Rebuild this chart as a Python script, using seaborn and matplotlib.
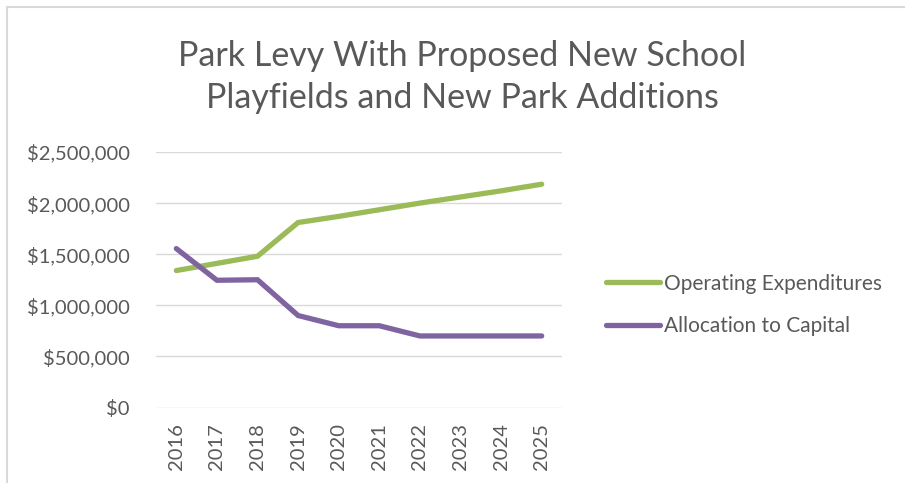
import matplotlib
matplotlib.use("Agg")
import matplotlib.pyplot as plt
from matplotlib.lines import Line2D
from matplotlib.ticker import FuncFormatter
import pandas as pd
import seaborn as sns

years = ["2016", "2017", "2018", "2019", "2020", "2021", "2022", "2023", "2024", "2025"]
operating_expenditures = [1340000, 1410000, 1480000, 1810000, 1870000, 1935000, 2000000, 2060000, 2120000, 2185000]
allocation_to_capital = [1555000, 1245000, 1250000, 900000, 800000, 800000, 700000, 700000, 700000, 700000]
series_names = ["Operating Expenditures", "Allocation to Capital"]
series_colors = ["#9BBB59", "#8064A2"]
title_text = "Park Levy With Proposed New School\nPlayfields and New Park Additions"

df = pd.DataFrame({
    "Year": years * 2,
    "Amount": operating_expenditures + allocation_to_capital,
    "Series": [series_names[0]] * len(years) + [series_names[1]] * len(years),
})

sns.set_theme(style="white")
plt.rcParams["font.family"] = ["Lato", "DejaVu Sans"]
text_color = "#595959"

fig = plt.figure(figsize=(9.05, 4.83), dpi=100)
ax = fig.add_axes([156 / 905, 1 - 407.5 / 483, (562 - 156) / 905, (407.5 - 152) / 483])

sns.lineplot(data=df, x="Year", y="Amount", hue="Series", palette=series_colors,
             hue_order=series_names, linewidth=3.8, ax=ax, legend=False, sort=False)
for ln in ax.lines:
    ln.set_solid_capstyle("round")
    ln.set_solid_joinstyle("miter")

ax.set_xlim(-0.5, len(years) - 0.5)
ax.set_ylim(0, 2500000)
ax.set_yticks(range(0, 2500001, 500000))
ax.yaxis.set_major_formatter(FuncFormatter(lambda v, p: f"${int(v):,}"))
ax.grid(axis="y", color="#D9D9D9", linewidth=1.0)
ax.set_axisbelow(True)
for s in ax.spines.values():
    s.set_visible(False)
ax.set_xlabel("")
ax.set_ylabel("")
ax.tick_params(axis="y", length=0, pad=19, labelsize=14.5, labelcolor=text_color)
ax.tick_params(axis="x", length=0, pad=11, labelsize=14.5, labelcolor=text_color, labelrotation=90)

fig.text(462 / 905, 1 - 77 / 483, title_text, ha="center", va="center",
         fontsize=24.5, color=text_color, linespacing=1.4)

handles = [Line2D([], [], color=c, linewidth=3.8, solid_capstyle="round") for c in series_colors]
leg = fig.legend(handles, series_names, loc="center left",
                 bbox_to_anchor=(587 / 905, 1 - 305 / 483), frameon=False,
                 fontsize=15, handlelength=2.6, handletextpad=0.2, labelspacing=1.1)
for t in leg.get_texts():
    t.set_color(text_color)

# chart area border (left and top edges)
fig.add_artist(Line2D([6.5 / 905, 6.5 / 905], [0, 1 - 7 / 483], transform=fig.transFigure,
                      color="#D9D9D9", linewidth=1.5))
fig.add_artist(Line2D([6.5 / 905, 1], [1 - 7 / 483, 1 - 7 / 483], transform=fig.transFigure,
                      color="#D9D9D9", linewidth=1.5))

fig.savefig("out.png", dpi=100)
